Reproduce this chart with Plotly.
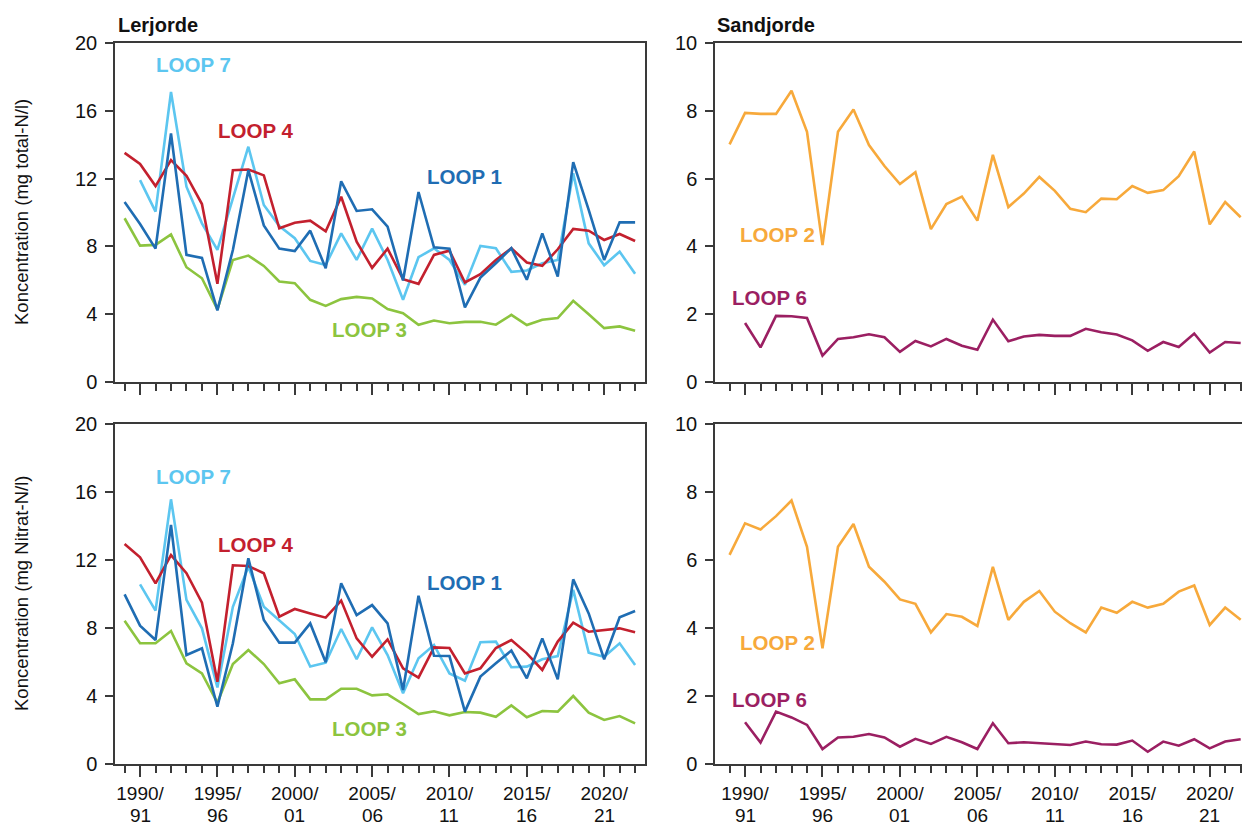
import plotly.graph_objects as go

years = list(range(1989, 2023))

# Lerjorde, total-N (mg/l)
tot_loop1 = [10.62, 9.32, 7.87, 14.66, 7.5, 7.32, 4.22, 7.79, 12.5, 9.24, 7.87, 7.73, 8.93, 6.71, 11.84, 10.09, 10.19,
             9.17, 5.99, 11.21, 7.95, 7.87, 4.4, 6.16, 7.01, 7.89, 6.03, 8.77, 6.22, 12.97, 10.15, 7.2, 9.42, 9.42]
tot_loop3 = [9.66, 8.05, 8.09, 8.71, 6.77, 6.12, 4.28, 7.2, 7.46, 6.85, 5.93, 5.83, 4.85, 4.49, 4.89, 5.02, 4.93,
             4.3, 4.06, 3.38, 3.63, 3.47, 3.55, 3.55, 3.38, 3.96, 3.36, 3.67, 3.77, 4.79, 4.0, 3.18, 3.28, 3.02]
tot_loop4 = [13.52, 12.86, 11.56, 13.09, 12.17, 10.5, 5.79, 12.5, 12.54, 12.19, 9.07, 9.4, 9.52, 8.89, 10.93, 8.28,
             6.73, 7.87, 6.06, 5.79, 7.5, 7.75, 5.87, 6.36, 7.2, 7.89, 7.05, 6.85, 7.83, 9.03, 8.93, 8.38, 8.73, 8.32]
tot_loop7 = [None, 11.91, 10.05, 17.11, 11.52, 9.36, 7.79, 10.83, 13.88, 10.44, 9.2, 8.48, 7.14, 6.9, 8.77, 7.2,
             9.05, 7.2, 4.85, 7.36, 7.89, 7.2, 5.73, 8.03, 7.89, 6.5, 6.58, 7.0, 7.2, 12.31, 8.18, 6.89, 7.69, 6.38]

# Sandjorde, total-N (mg/l)
tot_loop2 = [7.01, 7.94, 7.91, 7.91, 8.59, 7.38, 4.04, 7.38, 8.04, 6.99, 6.37, 5.84, 6.19, 4.51, 5.25, 5.47, 4.76,
             6.7, 5.16, 5.56, 6.05, 5.64, 5.11, 5.01, 5.41, 5.39, 5.78, 5.58, 5.66, 6.07, 6.8, 4.65, 5.31, 4.86]
tot_loop6 = [None, 1.74, 1.02, 1.95, 1.94, 1.89, 0.78, 1.27, 1.32, 1.41, 1.32, 0.89, 1.21, 1.05, 1.27, 1.07, 0.95,
             1.84, 1.2, 1.34, 1.39, 1.36, 1.36, 1.57, 1.47, 1.4, 1.23, 0.92, 1.18, 1.03, 1.43, 0.87, 1.18, 1.15]

# Lerjorde, nitrat-N (mg/l)
nit_loop1 = [9.98, 8.14, 7.29, 14.06, 6.41, 6.8, 3.37, 7.1, 12.1, 8.47, 7.14, 7.14, 8.27, 5.98, 10.63, 8.76, 9.35,
             8.27, 4.35, 9.9, 6.37, 6.35, 3.08, 5.14, 5.92, 6.67, 5.04, 7.39, 4.98, 10.86, 8.86, 6.16, 8.63, 9.0]
nit_loop3 = [8.43, 7.1, 7.1, 7.82, 5.92, 5.33, 3.6, 5.88, 6.71, 5.88, 4.75, 4.98, 3.8, 3.8, 4.43, 4.43, 4.04,
             4.1, 3.53, 2.94, 3.1, 2.86, 3.06, 3.02, 2.78, 3.45, 2.75, 3.12, 3.08, 4.0, 3.02, 2.59, 2.82, 2.39]
nit_loop4 = [12.94, 12.16, 10.63, 12.29, 11.22, 9.49, 4.84, 11.69, 11.65, 11.22, 8.67, 9.12, 8.86, 8.61, 9.61, 7.39,
             6.31, 7.33, 5.63, 5.08, 6.86, 6.82, 5.33, 5.63, 6.82, 7.29, 6.51, 5.53, 7.2, 8.31, 7.78, 7.88, 7.98, 7.75]
nit_loop7 = [None, 10.57, 9.02, 15.57, 9.65, 7.98, 4.5, 9.25, 11.6, 9.25, 8.43, 7.65, 5.73, 5.96, 7.94, 6.16,
             8.04, 6.41, 4.16, 6.22, 7.0, 5.33, 4.9, 7.16, 7.2, 5.69, 5.73, 6.16, 6.35, 10.24, 6.55, 6.31, 7.1, 5.82]

# Sandjorde, nitrat-N (mg/l)
nit_loop2 = [6.15, 7.08, 6.9, 7.29, 7.75, 6.39, 3.4, 6.39, 7.06, 5.8, 5.36, 4.84, 4.71, 3.87, 4.41, 4.33, 4.06,
             5.8, 4.24, 4.77, 5.09, 4.48, 4.14, 3.87, 4.6, 4.45, 4.77, 4.6, 4.71, 5.07, 5.25, 4.09, 4.6, 4.24]
nit_loop6 = [None, 1.23, 0.63, 1.54, 1.37, 1.15, 0.44, 0.78, 0.8, 0.88, 0.78, 0.51, 0.74, 0.59, 0.8, 0.64, 0.44,
             1.2, 0.61, 0.64, 0.61, 0.57, 0.56, 0.66, 0.58, 0.57, 0.69, 0.36, 0.66, 0.54, 0.73, 0.46, 0.66, 0.73]

major_ticks = [1990, 1995, 2000, 2005, 2010, 2015, 2020]
major_text_line1 = ["1990/", "1995/", "2000/", "2005/", "2010/", "2015/", "2020/"]
major_text_line2 = ["91", "96", "01", "06", "11", "16", "21"]

C1 = "#1f6db3"
C2 = "#f7a93b"
C3 = "#8cc43f"
C4 = "#c3202e"
C6 = "#9b1f62"
C7 = "#5cc6f0"
AX = "#3a3a3a"
TXT = "#111"
FONT = "Liberation Sans, Arial, sans-serif"
XFS = 19

W, H = 1242, 827
fig = go.Figure()


def add(y, color, xa, ya):
    fig.add_trace(go.Scatter(x=years, y=y, mode="lines", line=dict(color=color, width=2.6),
                             xaxis=xa, yaxis=ya, showlegend=False, connectgaps=False))


# top-left
add(tot_loop3, C3, "x", "y")
add(tot_loop7, C7, "x", "y")
add(tot_loop4, C4, "x", "y")
add(tot_loop1, C1, "x", "y")
# top-right
add(tot_loop2, C2, "x2", "y2")
add(tot_loop6, C6, "x2", "y2")
# bottom-left
add(nit_loop3, C3, "x3", "y3")
add(nit_loop7, C7, "x3", "y3")
add(nit_loop4, C4, "x3", "y3")
add(nit_loop1, C1, "x3", "y3")
# bottom-right
add(nit_loop2, C2, "x4", "y4")
add(nit_loop6, C6, "x4", "y4")

xl = [115 / W, 645 / W]
xr = [715 / W, 1.0]
yt = [1 - 382 / H, 1 - 43 / H]
yb = [1 - 764 / H, 1 - 424 / H]
rng_l = [1988.38, 2022.64]
rng_r = [1988.06, 2022.085]


def xaxis(domain, anchor, rng, labels):
    return dict(domain=domain, anchor=anchor, range=rng, showgrid=False, zeroline=False,
                automargin=False,
                showline=True, linecolor=AX, linewidth=1.5, mirror=True,
                ticks="outside", ticklen=11, tickwidth=1.5, tickcolor=AX,
                tickmode="array", tickvals=major_ticks, ticktext=major_text_line1,
                showticklabels=labels, ticklabelstandoff=0,
                tickfont=dict(family=FONT, size=XFS, color=TXT),
                minor=dict(tickmode="array", tickvals=years, ticks="outside", ticklen=7,
                           tickwidth=1.5, tickcolor=AX, showgrid=False))


def yaxis(domain, anchor, rng, dtick, mirror):
    return dict(domain=domain, anchor=anchor, range=rng, dtick=dtick, tick0=0, showgrid=False,
                automargin=False,
                zeroline=False, showline=True, linecolor=AX, linewidth=1.5, mirror=mirror,
                ticks="outside", ticklen=8, tickwidth=1.5, tickcolor=AX, ticklabelstandoff=4,
                tickfont=dict(family=FONT, size=20, color=TXT))


fig.update_layout(
    width=W, height=H, margin=dict(l=0, r=0, t=0, b=0, pad=0), autosize=False,
    paper_bgcolor="white", plot_bgcolor="white",
    xaxis=xaxis(xl, "y", rng_l, False),
    xaxis2=xaxis(xr, "y2", rng_r, False),
    xaxis3=xaxis(xl, "y3", rng_l, True),
    xaxis4=xaxis(xr, "y4", rng_r, True),
    yaxis=yaxis(yt, "x", [0, 20], 4, True),
    yaxis2=yaxis(yt, "x2", [0, 10], 2, False),
    yaxis3=yaxis(yb, "x3", [0, 20], 4, True),
    yaxis4=yaxis(yb, "x4", [0, 10], 2, False),
)

# second line of the hydrological-year tick labels
for xa in ("x3", "x4"):
    for tv, t2 in zip(major_ticks, major_text_line2):
        fig.add_annotation(text=t2, x=tv, y=0.0, xref=xa, yref="paper", showarrow=False,
                           xanchor="center", yanchor="bottom", borderpad=0,
                           font=dict(family=FONT, size=XFS, color=TXT))


def label(text, x, y, color, xref, yref):
    fig.add_annotation(text="<b>%s</b>" % text, x=x, y=y, xref=xref, yref=yref, showarrow=False,
                       xanchor="center", yanchor="middle",
                       font=dict(family=FONT, size=20.5, color=color))


label("LOOP 7", 1993.44, 18.72, C7, "x", "y")
label("LOOP 4", 1997.44, 14.86, C4, "x", "y")
label("LOOP 1", 2010.99, 12.15, C1, "x", "y")
label("LOOP 3", 2004.85, 3.08, C3, "x", "y")
label("LOOP 2", 1992.07, 4.34, C2, "x2", "y2")
label("LOOP 6", 1991.6, 2.49, C6, "x2", "y2")
label("LOOP 7", 1993.44, 16.9, C7, "x3", "y3")
label("LOOP 4", 1997.44, 12.94, C4, "x3", "y3")
label("LOOP 1", 2010.99, 10.69, C1, "x3", "y3")
label("LOOP 3", 2004.85, 2.1, C3, "x3", "y3")
label("LOOP 2", 1992.07, 3.57, C2, "x4", "y4")
label("LOOP 6", 1991.6, 1.9, C6, "x4", "y4")

fig.add_annotation(text="<b>Lerjorde</b>", x=116 / W, y=1 - 25 / H, xref="paper", yref="paper",
                   showarrow=False, xanchor="left", yanchor="middle",
                   font=dict(family=FONT, size=20, color=TXT))
fig.add_annotation(text="<b>Sandjorde</b>", x=715 / W, y=1 - 25 / H, xref="paper", yref="paper",
                   showarrow=False, xanchor="left", yanchor="middle",
                   font=dict(family=FONT, size=20, color=TXT))
fig.add_annotation(text="Koncentration (mg total-N/l)", x=21 / W, y=1 - 212 / H, xref="paper", yref="paper",
                   showarrow=False, textangle=-90, xanchor="center", yanchor="middle",
                   font=dict(family=FONT, size=18.5, color=TXT))
fig.add_annotation(text="Koncentration (mg Nitrat-N/l)", x=21 / W, y=1 - 594 / H, xref="paper", yref="paper",
                   showarrow=False, textangle=-90, xanchor="center", yanchor="middle",
                   font=dict(family=FONT, size=18.5, color=TXT))

fig.write_html("out.html", config={"displayModeBar": False},
               post_script="document.body.style.margin='0';document.body.style.overflow='hidden';")
